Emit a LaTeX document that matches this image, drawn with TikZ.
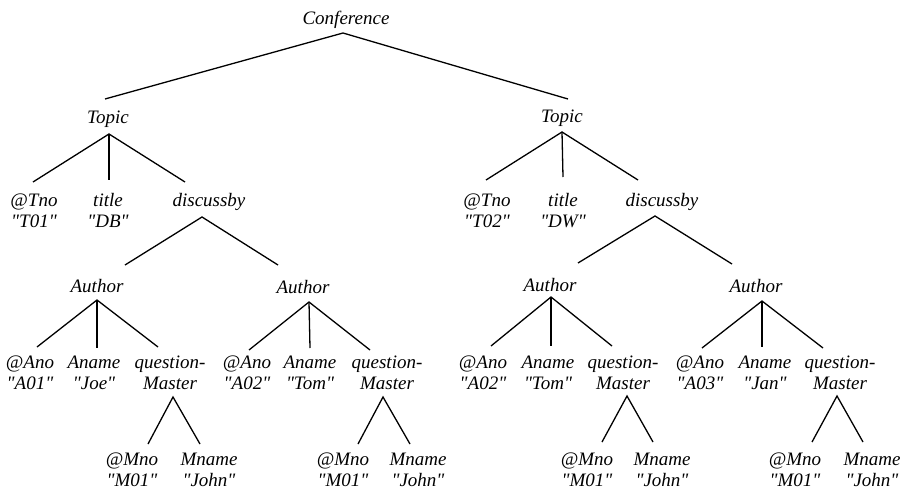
\documentclass[tikz,border=0pt]{standalone}
\usepackage{fontspec}
\setmainfont{Liberation Serif}[Ligatures=TeXOff]
\newcommand\twolines[2]{\begin{tabular}[t]{@{}c@{}}#1\\#2\end{tabular}}
% straight double quotes around a value
\newcommand\qv[1]{\symbol{34}#1\symbol{34}}
\begin{document}
\begin{tikzpicture}[x=1pt,y=-1pt,
  lbl/.style={anchor=base,inner sep=0pt,font=\fontsize{19}{21}\selectfont\itshape},
  edge/.style={line width=1.3pt}]
\useasboundingbox (0,0) rectangle (901,487);

% root and topics
\node[lbl] (conf) at (346,25) {Conference};
\node[lbl] (t1) at (108,123) {Topic};
\node[lbl] (t2) at (562,122) {Topic};

% topic children
\node[lbl] (tno1) at (34,206) {\twolines{@Tno}{\qv{T01}}};
\node[lbl] (ttl1) at (108,206) {\twolines{title}{\qv{DB}}};
\node[lbl] (db1) at (209,206) {discussby};
\node[lbl] (tno2) at (487,206) {\twolines{@Tno}{\qv{T02}}};
\node[lbl] (ttl2) at (563,206) {\twolines{title}{\qv{DW}}};
\node[lbl] (db2) at (662,206) {discussby};

% authors
\node[lbl] (au1) at (97,292) {Author};
\node[lbl] (au2) at (303,293) {Author};
\node[lbl] (au3) at (550,291) {Author};
\node[lbl] (au4) at (756,292) {Author};

% author children
\node[lbl] (ano1) at (30,368) {\twolines{@Ano}{\qv{A01}}};
\node[lbl] (an1) at (94,368) {\twolines{Aname}{\qv{Joe}}};
\node[lbl] (qm1) at (170,368) {\twolines{question-}{Master}};
\node[lbl] (ano2) at (247,368) {\twolines{@Ano}{\qv{A02}}};
\node[lbl] (an2) at (310,368) {\twolines{Aname}{\qv{Tom}}};
\node[lbl] (qm2) at (387,368) {\twolines{question-}{Master}};
\node[lbl] (ano3) at (483,368) {\twolines{@Ano}{\qv{A02}}};
\node[lbl] (an3) at (548,368) {\twolines{Aname}{\qv{Tom}}};
\node[lbl] (qm3) at (623,368) {\twolines{question-}{Master}};
\node[lbl] (ano4) at (700,368) {\twolines{@Ano}{\qv{A03}}};
\node[lbl] (an4) at (765,368) {\twolines{Aname}{\qv{Jan}}};
\node[lbl] (qm4) at (840,368) {\twolines{question-}{Master}};

% question-master children
\node[lbl] (mno1) at (132,465) {\twolines{@Mno}{\qv{M01}}};
\node[lbl] (mn1) at (209,465) {\twolines{Mname}{\qv{John}}};
\node[lbl] (mno2) at (343,465) {\twolines{@Mno}{\qv{M01}}};
\node[lbl] (mn2) at (418,465) {\twolines{Mname}{\qv{John}}};
\node[lbl] (mno3) at (587,465) {\twolines{@Mno}{\qv{M01}}};
\node[lbl] (mn3) at (662,465) {\twolines{Mname}{\qv{John}}};
\node[lbl] (mno4) at (795,465) {\twolines{@Mno}{\qv{M01}}};
\node[lbl] (mn4) at (872,465) {\twolines{Mname}{\qv{John}}};

% edges
\draw[edge] ([shift={(-3,-24)}]t1.base) -- ([shift={(-3,8)}]conf.base) -- ([shift={(6,-23)}]t2.base);

\draw[edge] ([shift={(-1,-24)}]tno1.base) -- ([shift={(1,11)}]t1.base) -- ([shift={(-24,-24)}]db1.base);
\draw[edge] ([shift={(1,11)}]t1.base) -- ([shift={(1,-26)}]ttl1.base);
\draw[edge] ([shift={(-1,-26)}]tno2.base) -- ([shift={(0,10)}]t2.base) -- ([shift={(-24,-26)}]db2.base);
\draw[edge] ([shift={(0,10)}]t2.base) -- ([shift={(0,-29)}]ttl2.base);

\draw[edge] ([shift={(28,-27)}]au1.base) -- ([shift={(-7,11)}]db1.base) -- ([shift={(-25,-28)}]au2.base);
\draw[edge] ([shift={(28,-28)}]au3.base) -- ([shift={(-7,10)}]db2.base) -- ([shift={(-24,-28)}]au4.base);

\draw[edge] ([shift={(7,-21)}]ano1.base) -- ([shift={(0,8)}]au1.base) -- ([shift={(-12,-21)}]qm1.base);
\draw[edge] ([shift={(0,8)}]au1.base) -- ([shift={(3,-20)}]an1.base);
\draw[edge] ([shift={(2,-18)}]ano2.base) -- ([shift={(6,9)}]au2.base) -- ([shift={(-17,-18)}]qm2.base);
\draw[edge] ([shift={(6,9)}]au2.base) -- ([shift={(0,-20)}]an2.base);
\draw[edge] ([shift={(8,-22)}]ano3.base) -- ([shift={(1,6)}]au3.base) -- ([shift={(-11,-22)}]qm3.base);
\draw[edge] ([shift={(1,6)}]au3.base) -- ([shift={(3,-22)}]an3.base);
\draw[edge] ([shift={(2,-20)}]ano4.base) -- ([shift={(6,9)}]au4.base) -- ([shift={(-17,-20)}]qm4.base);
\draw[edge] ([shift={(6,9)}]au4.base) -- ([shift={(-3,-21)}]an4.base);

\draw[edge] ([shift={(16,-21)}]mno1.base) -- ([shift={(3,29)}]qm1.base) -- ([shift={(-9,-21)}]mn1.base);
\draw[edge] ([shift={(15,-21)}]mno2.base) -- ([shift={(-4,29)}]qm2.base) -- ([shift={(-8,-21)}]mn2.base);
\draw[edge] ([shift={(15,-23)}]mno3.base) -- ([shift={(4,28)}]qm3.base) -- ([shift={(-9,-23)}]mn3.base);
\draw[edge] ([shift={(17,-23)}]mno4.base) -- ([shift={(-3,28)}]qm4.base) -- ([shift={(-9,-23)}]mn4.base);
\end{tikzpicture}
\end{document}
